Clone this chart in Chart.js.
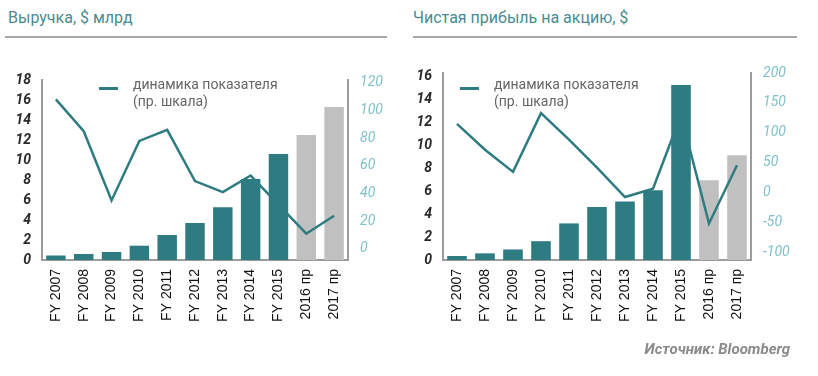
<!DOCTYPE html>
<html lang="ru">
<head>
<meta charset="UTF-8">
<title>Выручка и прибыль на акцию</title>
<script src="https://cdn.jsdelivr.net/npm/chart.js"></script>
<style>
  body { margin: 0; padding: 0; background: #fff; font-family: Roboto, 'Noto Sans', sans-serif; }
  .page { position: relative; width: 818px; height: 376px; overflow: hidden; }
  .title { position: absolute; top: 8px; font-size: 16px; color: #4b8b91; white-space: nowrap; }
  .rule { position: absolute; top: 36px; height: 0; border-top: 2px solid #a8a8a8; }
  .box { position: absolute; top: 40px; }
  .legend { position: absolute; top: 76px; font-size: 14px; line-height: 17px; color: #666; }
  .legend .swatch { position: absolute; left: -34px; top: 11px; width: 19px; height: 0; border-top: 3px solid #2e7c82; }
  .source { position: absolute; right: 28px; top: 340px; font-size: 15px; font-weight: bold; font-style: italic; color: #8a8a8a; }
</style>
</head>
<body>
<div class="page">
  <div class="title" style="left:8px">Выручка, $ млрд</div>
  <div class="rule" style="left:5px; width:382px"></div>
  <div class="title" style="left:413px">Чистая прибыль на акцию, $</div>
  <div class="rule" style="left:413px; width:384px"></div>

  <div class="box" style="left:0; width:405px; height:336px"><canvas id="revChart" width="405" height="336"></canvas></div>
  <div class="box" style="left:405px; width:413px; height:336px"><canvas id="epsChart" width="413" height="336"></canvas></div>

  <div class="legend" style="left:133px"><span class="swatch"></span>динамика показателя<br>(пр. шкала)</div>
  <div class="legend" style="left:494px"><span class="swatch"></span>динамика показателя<br>(пр. шкала)</div>

  <div class="source">Источник: Bloomberg</div>
</div>

<script>
const categories = ['FY 2007', 'FY 2008', 'FY 2009', 'FY 2010', 'FY 2011', 'FY 2012', 'FY 2013', 'FY 2014', 'FY 2015', '2016 пр', '2017 пр'];

// выручка, $ млрд (левая шкала) и динамика, % (правая шкала)
const revenue    = [0.45, 0.6, 0.8, 1.43, 2.5, 3.7, 5.27, 8.1, 10.6, 12.5, 15.3];
const revenueDyn = [108, 85, 35, 78, 86, 49, 41, 53, 32, 11, 24];

// чистая прибыль на акцию, $ и динамика, %
const eps    = [0.35, 0.58, 0.92, 1.64, 3.19, 4.62, 5.09, 6.08, 15.25, 6.95, 9.13];
const epsDyn = [115, 72, 35, 133, 89, 42, -7, 7, 130, -51, 46];

const TEAL = '#2e7c82';
const GREY = '#c0c0c0';
const barColors = categories.map(c => c.includes('пр') ? GREY : TEAL);

function stepFilter(step) {
  return function (scale) {
    scale.ticks = scale.ticks.filter(t => t.value >= scale.min && t.value <= scale.max && Math.abs(t.value % step) < 1e-9);
  };
}

function makeChart(id, bars, line, left, right, sizes) {
  const ctx = document.getElementById(id).getContext('2d');
  return new Chart(ctx, {
    data: {
      labels: categories,
      datasets: [
        {
          type: 'line',
          data: line,
          yAxisID: 'y1',
          borderColor: TEAL,
          borderWidth: 2.5,
          pointRadius: 0,
          tension: 0,
          order: 0
        },
        {
          type: 'bar',
          data: bars,
          yAxisID: 'y',
          backgroundColor: barColors,
          categoryPercentage: 1,
          barPercentage: 0.7,
          order: 1
        }
      ]
    },
    options: {
      responsive: false,
      animation: false,
      layout: { padding: { top: sizes.top, left: 0, right: 0, bottom: 0 } },
      plugins: { legend: { display: false }, tooltip: { enabled: false } },
      scales: {
        x: {
          grid: { display: false, drawTicks: false },
          border: { color: '#9c9c9c', width: 2 },
          ticks: {
            autoSkip: false, minRotation: 90, maxRotation: 90, padding: 9,
            color: '#111', font: { family: "'Liberation Sans', Arial, sans-serif", size: 14 }
          },
          afterFit: s => { s.height = sizes.xh; }
        },
        y: {
          position: 'left',
          min: left.min, max: left.max,
          grid: { display: false, drawTicks: false },
          border: { color: '#9c9c9c', width: 2 },
          ticks: {
            stepSize: left.step, includeBounds: false, autoSkip: false, padding: 11, color: '#2a2a2a',
            font: { family: 'Roboto, sans-serif', size: 14, style: 'italic', weight: 'bold' }
          },
          afterBuildTicks: stepFilter(left.step),
          afterFit: s => { s.width = sizes.lw; }
        },
        y1: {
          position: 'right',
          min: right.min, max: right.max,
          grid: { display: false, drawTicks: false },
          border: { color: '#9c9c9c', width: 2 },
          ticks: {
            stepSize: right.step, includeBounds: false, autoSkip: false, padding: 12, color: '#80c0c9',
            font: { family: 'Roboto, sans-serif', size: 14, style: 'italic' }
          },
          afterBuildTicks: stepFilter(right.step),
          afterFit: s => { s.width = sizes.rw; }
        }
      }
    }
  });
}

makeChart('revChart', revenue, revenueDyn,
  { min: 0, max: 18, step: 2 },
  { min: -8, max: 122, step: 20 },
  { top: 40, xh: 116, lw: 42, rw: 57 });

makeChart('epsChart', eps, epsDyn,
  { min: 0, max: 16.3, step: 2 },
  { min: -112, max: 200, step: 50 },
  { top: 33, xh: 116, lw: 38, rw: 67 });
</script>
</body>
</html>
